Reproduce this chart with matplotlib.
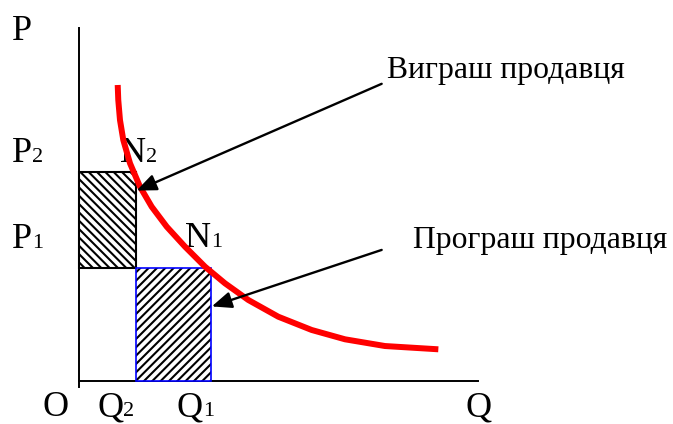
import matplotlib
matplotlib.use("Agg")
import matplotlib.pyplot as plt

# ---- data ----
Q2, Q1 = 1.0, 2.32          # quantities
P1, P2 = 2.0, 3.7           # prices
Q_AXIS_END, P_AXIS_TOP = 7.0, 6.25

# demand curve points
curve_q = [0.679, 0.689, 0.719, 0.777, 0.895, 1.070, 1.275, 1.539, 1.860,
           2.211, 2.561, 2.970, 3.496, 4.082, 4.667, 5.368, 6.304]
curve_p = [5.239, 4.973, 4.619, 4.265, 3.853, 3.439, 3.085, 2.731, 2.377,
           2.023, 1.729, 1.434, 1.138, 0.903, 0.738, 0.619, 0.561]

gain_label = "Виграш продавця"
loss_label = "Програш продавця"

plt.rcParams['font.family'] = ['Liberation Serif', 'DejaVu Serif']
plt.rcParams['hatch.linewidth'] = 1.5

fig = plt.figure(figsize=(6.73, 4.24), dpi=100)
ax = fig.add_axes([0, 0, 1, 1])
ax.set_xlim(-79 / 57, (673 - 79) / 57)
ax.set_ylim(-(424 - 381) / 56.5, 381 / 56.5)
ax.axis('off')

# axes
ax.plot([0, 0], [-0.1, P_AXIS_TOP], color='black', lw=1.4, zorder=1)
ax.plot([0, Q_AXIS_END], [0, 0], color='black', lw=1.4, zorder=1)

# seller gain (left) and loss (right) areas
ax.bar(0, P2 - P1, bottom=P1, width=Q2, align='edge', color='white',
       edgecolor='black', hatch='\\' * 4, lw=1.5, zorder=2)
ax.bar(Q2, P1, bottom=0, width=Q1 - Q2, align='edge', color='white',
       edgecolor='black', hatch='/' * 4, lw=0, zorder=2)
ax.bar(Q2, P1, bottom=0, width=Q1 - Q2, align='edge', fill=False,
       edgecolor='#0000ff', lw=1.2, zorder=3)

# demand curve
ax.plot(curve_q, curve_p, color='#ff0000', lw=4.3, solid_capstyle='butt',
        solid_joinstyle='round', zorder=4)

# arrows with captions
arrow = dict(arrowstyle='-|>,head_length=0.6,head_width=0.25',
             mutation_scale=20, color='black', lw=1.7, shrinkA=0, shrinkB=0)
ax.annotate('', xy=(Q2 + 0.01, 3.37), xytext=(5.31, 5.26),
            arrowprops=arrow, zorder=5)
ax.annotate('', xy=(Q1 + 0.01, 1.32), xytext=(5.31, 2.32),
            arrowprops=arrow, zorder=5)
ax.text(5.40, 5.36, gain_label, fontsize=22.8, va='baseline', ha='left')
ax.text(5.86, 2.35, loss_label, fontsize=22.8, va='baseline', ha='left')

# letter labels with small digit at baseline
renderer = fig.canvas.get_renderer()


def label(x, y, main, sub=None):
    t = ax.text(x, y, main, fontsize=26, va='baseline', ha='left')
    if sub:
        bb = t.get_window_extent(renderer)
        xd = ax.transData.inverted().transform((bb.x1, 0))[0]
        ax.text(xd, y, sub, fontsize=16, va='baseline', ha='left')


label(-1.175, 6.035, 'P')
label(-1.175, 3.876, 'P', '2')
label(-1.175, 2.354, 'P', '1')
label(0.719, 3.876, 'N', '2')
label(1.86, 2.372, 'N', '1')
label(-0.649, -0.62, 'O')
label(0.316, -0.62, 'Q', '2')
label(1.719, -0.62, 'Q', '1')
label(6.772, -0.62, 'Q')

fig.savefig('out.png', dpi=100)
